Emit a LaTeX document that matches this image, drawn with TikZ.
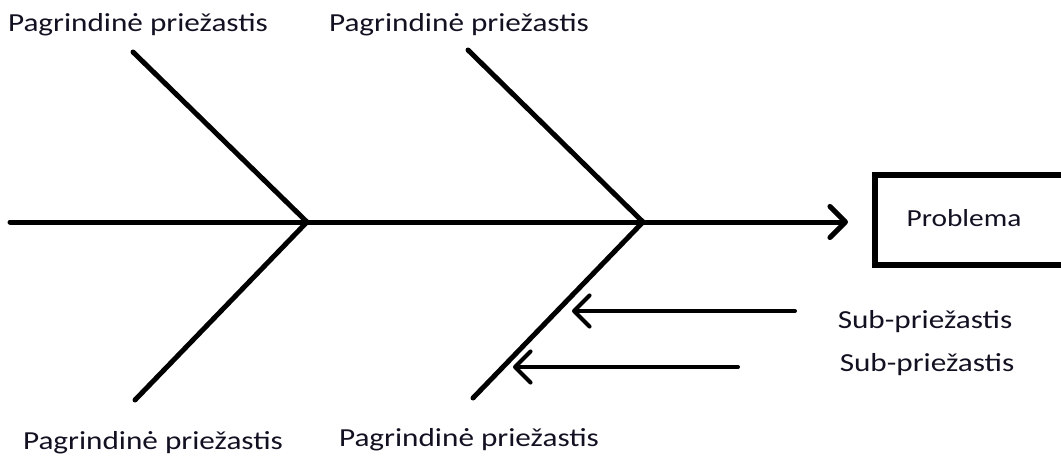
\documentclass[tikz,border=0pt]{standalone}
\usepackage{fontspec}
\setmainfont[FakeStretch=1.2]{Carlito}
\usetikzlibrary{arrows.meta}
\definecolor{ink}{HTML}{111122}
\begin{document}
\begin{tikzpicture}[x=1pt,y=-1pt,
  bone/.style={line width=5pt,line cap=round},
  chev/.style={-{Straight Barb[angle=90:22pt,round]}},
  lbl/.style={text=ink,font=\fontsize{26}{30}\selectfont,inner sep=0pt},
  probbox/.style={draw,line width=6pt,minimum width=200pt,minimum height=90pt}]
\useasboundingbox (0,0) rectangle (1061,466);
% spine and joints
\coordinate (tail) at (10,222);
\coordinate (head) at (848,222);
\coordinate (j1) at (307,222);
\coordinate (j2) at (643,222);
% bone ends
\coordinate (b1) at (133,52);
\coordinate (b2) at (135,400);
\coordinate (b3) at (468,50);
\coordinate (b4) at (473,398);
\draw[bone,chev] (tail) -- (head);
\draw[bone] (b1) -- (j1) -- (b2);
\draw[bone] (b3) -- (j2) -- (b4);
% sub-cause arrows
\coordinate (s1a) at (795,311);
\coordinate (s1b) at (572,311);
\coordinate (s2a) at (738,367);
\coordinate (s2b) at (513,367);
\draw[bone,line width=4pt,chev] (s1a) -- (s1b);
\draw[bone,line width=4pt,chev] (s2a) -- (s2b);
% problem box, running past the right edge
\begin{scope}
\clip (0,0) rectangle (1061,466);
\node[probbox,anchor=west] (box) at (872,220) {};
\end{scope}
\node[lbl,font=\fontsize{24.5}{28}\selectfont] (prob) at (964,218) {Problema};
% labels
\node[lbl] (l1) at (138,25) {Pagrindinė priežastis};
\node[lbl] (l2) at (459,25) {Pagrindinė priežastis};
\node[lbl] (l3) at (153,443) {Pagrindinė priežastis};
\node[lbl] (l4) at (469,440) {Pagrindinė priežastis};
\node[lbl] (sub1) at (925,322) {Sub-priežastis};
\node[lbl] (sub2) at (927,365) {Sub-priežastis};
\end{tikzpicture}
\end{document}
